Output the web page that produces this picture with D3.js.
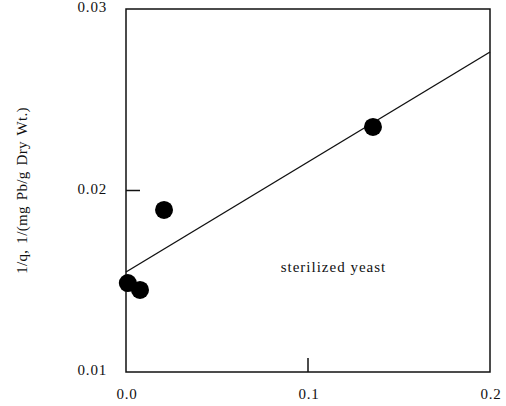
<!doctype html>
<html lang="en">
<head>
<meta charset="UTF-8">
<title>sterilized yeast</title>
<style>
  body { margin: 0; background: #fff; }
  text { font-family: "Liberation Serif", "DejaVu Serif", serif; fill: #111; }
</style>
</head>
<body>
<div class="container"></div>
<script src="https://cdn.jsdelivr.net/npm/d3@7"></script>
<script>
  // data
  const xVals = [0.001, 0.0077, 0.0209, 0.1357];
  const yVals = [0.0149, 0.01452, 0.01893, 0.0235];
  const fitX = [0.0, 0.2];
  const fitY = [0.01551, 0.02763];
  const xTicks = [0.0, 0.1, 0.2];
  const yTicks = [0.01, 0.02, 0.03];

  const W = 506, H = 406;
  const M = { left: 126, right: 16, top: 9, bottom: 34 };
  const PW = W - M.left - M.right;
  const PH = H - M.top - M.bottom;

  const svg = d3.select('.container').append('svg')
    .attr('width', W).attr('height', H);

  const g = svg.append('g').attr('transform', `translate(${M.left},${M.top})`);

  const x = d3.scaleLinear().domain([0, 0.2]).range([0, PW]);
  const y = d3.scaleLinear().domain([0.01, 0.03]).range([PH, 0]);

  // frame
  g.append('rect')
    .attr('width', PW).attr('height', PH)
    .attr('fill', 'none').attr('stroke', '#111').attr('stroke-width', 1.5);

  // inward ticks
  g.selectAll('.xt').data(xTicks.slice(1, -1)).enter().append('line')
    .attr('x1', d => x(d)).attr('x2', d => x(d))
    .attr('y1', PH).attr('y2', PH - 14)
    .attr('stroke', '#111').attr('stroke-width', 1.5);
  g.selectAll('.yt').data(yTicks.slice(1, -1)).enter().append('line')
    .attr('x1', 0).attr('x2', 14)
    .attr('y1', d => y(d)).attr('y2', d => y(d))
    .attr('stroke', '#111').attr('stroke-width', 1.5);

  // tick labels
  g.selectAll('.xl').data(xTicks).enter().append('text')
    .attr('x', d => x(d) + 1).attr('y', PH + 27)
    .attr('text-anchor', 'middle').attr('font-size', 15)
    .attr('letter-spacing', 0.8)
    .text(d => d.toFixed(1));
  g.selectAll('.yl').data(yTicks).enter().append('text')
    .attr('x', -19).attr('y', d => y(d) + 3)
    .attr('text-anchor', 'end').attr('font-size', 15)
    .attr('letter-spacing', 0.8)
    .text(d => d.toFixed(2));

  // fit line
  g.append('line')
    .attr('x1', x(fitX[0])).attr('y1', y(fitY[0]))
    .attr('x2', x(fitX[1])).attr('y2', y(fitY[1]))
    .attr('stroke', '#111').attr('stroke-width', 1.4);

  // points
  g.selectAll('circle').data(xVals).enter().append('circle')
    .attr('cx', d => x(d)).attr('cy', (d, i) => y(yVals[i]))
    .attr('r', 9).attr('fill', '#000');

  // annotation
  g.append('text')
    .attr('x', x(0.114)).attr('y', y(0.0155))
    .attr('text-anchor', 'middle').attr('font-size', 15)
    .attr('letter-spacing', 1)
    .text('sterilized yeast');

  // y axis title
  svg.append('text')
    .attr('transform', `translate(27,${M.top + PH / 2}) rotate(-90)`)
    .attr('text-anchor', 'middle').attr('font-size', 15)
    .attr('letter-spacing', 0.3)
    .attr('word-spacing', 2)
    .text('1/q, 1/(mg Pb/g Dry Wt.)');
</script>
</body>
</html>
